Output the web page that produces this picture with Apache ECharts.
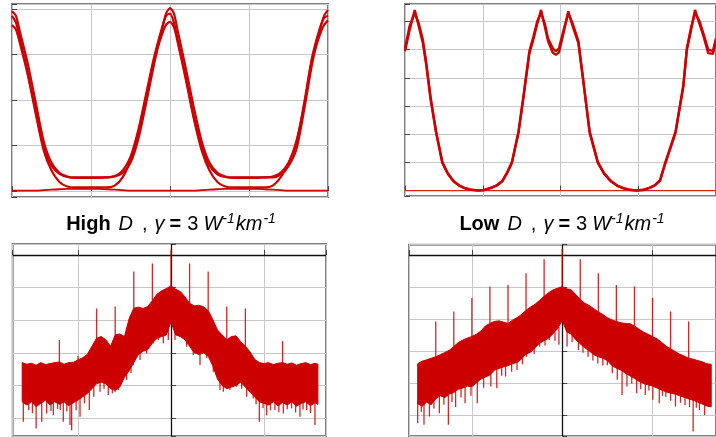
<!DOCTYPE html>
<html>
<head>
<meta charset="utf-8">
<script src="https://cdn.jsdelivr.net/npm/echarts@6/dist/echarts.min.js"></script>
<style>
  html, body { margin: 0; padding: 0; background: #fff; }
  #main { width: 716px; height: 437px; }
</style>
</head>
<body>
<div id="main"></div>
<script>
// 眼图 + 频谱 (High D / Low D)
const RED = '#cc0000';
const SPIKE = 'rgba(204,0,0,0.85)';

// ---- 左上: High D 眼图 ----
const hiEyeX = [0, 0.05, 0.1, 0.2, 0.3, 0.4, 0.5, 0.6, 0.7, 0.8, 0.9,
  1.0, 1.1, 1.2, 1.3, 1.4, 1.5, 1.6, 1.7, 1.8, 1.9, 1.95, 2.0, 2.05, 2.1,
  2.2, 2.3, 2.4, 2.5, 2.6, 2.7, 2.8, 2.9, 3.0, 3.1, 3.2, 3.3, 3.4, 3.5, 3.6, 3.7, 3.8, 3.9, 3.95, 4.0];
const hiEyeA = [3.85, 3.7, 3.35, 2.6, 1.75, 0.98, 0.56, 0.38, 0.31, 0.29, 0.29,
  0.29, 0.29, 0.3, 0.33, 0.45, 0.75, 1.35, 2.15, 2.95, 3.6, 3.85, 3.9, 3.7, 3.3,
  2.5, 1.65, 0.98, 0.56, 0.37, 0.31, 0.29, 0.29, 0.29, 0.29, 0.3, 0.32, 0.4, 0.62, 1.05, 1.95, 2.95, 3.6, 3.8, 3.85];
const hiEyeB = [3.95, 3.85, 3.5, 2.8, 1.95, 1.1, 0.62, 0.4, 0.32, 0.3, 0.3,
  0.3, 0.3, 0.3, 0.32, 0.4, 0.62, 1.15, 1.95, 2.8, 3.55, 3.9, 4.02, 3.9, 3.5,
  2.7, 1.85, 1.1, 0.62, 0.4, 0.32, 0.3, 0.3, 0.3, 0.3, 0.3, 0.3, 0.36, 0.55, 0.92, 1.8, 2.8, 3.55, 3.85, 3.98];
const hiEyeC = [3.65, 3.55, 3.25, 2.55, 1.7, 0.9, 0.45, 0.2, 0.1, 0.08, 0.08,
  0.08, 0.08, 0.08, 0.12, 0.3, 0.68, 1.3, 2.1, 2.9, 3.45, 3.65, 3.72, 3.6, 3.25,
  2.45, 1.6, 0.9, 0.45, 0.2, 0.1, 0.08, 0.08, 0.08, 0.08, 0.08, 0.12, 0.3, 0.6, 1.1, 1.9, 2.9, 3.45, 3.65, 3.75];
const hiEyeZero = [0.01, 0.01, 0.01, 0.01, 0.01, 0.02, 0.03, 0.04, 0.05, 0.05, 0.05,
  0.05, 0.05, 0.04, 0.03, 0.02, 0.01, 0.01, 0.01, 0.01, 0.01, 0.01, 0.01, 0.01, 0.01,
  0.01, 0.01, 0.02, 0.03, 0.04, 0.05, 0.05, 0.05, 0.05, 0.05, 0.04, 0.03, 0.02, 0.01, 0.01, 0.01, 0.01, 0.01, 0.01, 0.01];

// ---- 右上: Low D 眼图 ----
const loEyeX = [0, 0.06, 0.125, 0.18, 0.23, 0.27, 0.33, 0.4, 0.48, 0.55,
  0.625, 0.7, 0.77, 0.85, 0.94, 1.02, 1.1, 1.18, 1.25, 1.31,
  1.375, 1.46, 1.52, 1.6, 1.65, 1.7, 1.75, 1.8, 1.84, 1.9,
  1.94, 1.98, 2.04, 2.1, 2.16, 2.23, 2.29, 2.375, 2.48, 2.56,
  2.65, 2.73, 2.81, 2.9, 2.98, 3.06, 3.14, 3.21, 3.28, 3.35,
  3.48, 3.58, 3.625, 3.68, 3.73, 3.79, 3.84, 3.9, 3.96, 4.0];
const loEyeA = [4.94, 5.7, 6.41, 5.8, 5.23, 4.52, 3.22, 2.05, 0.98, 0.6,
  0.32, 0.17, 0.085, 0.03, 0.0, 0.02, 0.09, 0.18, 0.32, 0.6,
  0.98, 2.05, 3.22, 4.88, 5.35, 5.9, 6.41, 5.8, 5.3, 4.9,
  4.82, 4.9, 5.6, 6.36, 5.8, 5.23, 3.93, 2.05, 0.98, 0.6,
  0.32, 0.17, 0.08, 0.02, 0.0, 0.02, 0.09, 0.18, 0.35, 0.98,
  2.05, 3.69, 4.99, 5.7, 6.41, 5.9, 5.47, 4.88, 4.85, 5.3];
const loEyeB = [5.05, 5.85, 6.3, 5.9, 5.35, 4.6, 3.3, 2.1, 1.02, 0.62,
  0.34, 0.18, 0.09, 0.035, 0.01, 0.025, 0.1, 0.19, 0.34, 0.63,
  1.02, 2.1, 3.3, 4.95, 5.45, 6.0, 6.3, 5.9, 5.4, 5.05,
  4.95, 5.05, 5.7, 6.28, 5.9, 5.3, 4.0, 2.1, 1.02, 0.62,
  0.34, 0.18, 0.09, 0.03, 0.01, 0.03, 0.1, 0.19, 0.37, 1.02,
  2.1, 3.75, 5.05, 5.8, 6.3, 6.0, 5.55, 5.0, 4.95, 5.4];
const loFloorX = [0, 4];
const loFloorY = [0, 0];

// ---- 左下: High D 频谱 (dB) ----
const hiSpecX = [-160, -155, -150, -145, -140, -135, -130, -125, -120, -115,
  -110, -105, -100, -95, -90, -85, -80, -75, -70, -65,
  -60, -55, -50, -45, -40, -35, -30, -25, -20, -15,
  -10, -5, 0, 5, 10, 15, 20, 25, 30, 35,
  40, 45, 50, 55, 60, 65, 70, 75, 80, 85,
  90, 95, 100, 105, 110, 115, 120, 125, 130, 135,
  140, 145, 150, 155, 158];
const hiSpecTop = [-33.0, -33.5, -33.2, -33.8, -33.0, -33.6, -33.3, -33.0, -32.8, -33.5,
  -33.0, -32.9, -32.2, -31.5, -30.5, -28.0, -25.5, -25.0, -26.0, -28.0,
  -24.5, -24.2, -25.0, -19.5, -16.3, -16.0, -16.4, -15.8, -14.0, -12.0,
  -11.0, -10.3, -9.5, -10.5, -11.2, -12.8, -14.8, -15.6, -15.4, -15.9,
  -17.0, -19.8, -23.0, -24.5, -26.0, -25.0, -24.8, -26.6, -28.0, -29.7,
  -32.0, -33.0, -33.3, -33.0, -33.6, -33.2, -33.0, -33.5, -33.1, -33.8,
  -33.3, -33.0, -33.6, -33.2, -33.5];
const hiSpecBot = [-45.0, -46.0, -45.0, -46.5, -45.5, -44.5, -46.0, -45.0, -45.8, -45.0,
  -46.2, -45.3, -44.5, -43.5, -42.5, -41.0, -39.5, -39.0, -39.5, -41.0,
  -41.5, -40.5, -37.5, -35.5, -33.0, -30.5, -29.5, -29.0, -27.0, -25.5,
  -25.0, -24.5, -20.5, -24.5, -25.0, -26.0, -28.0, -30.0, -30.5, -30.0,
  -31.0, -34.0, -38.0, -40.0, -41.0, -40.5, -40.0, -39.0, -40.5, -42.0,
  -43.5, -45.0, -45.5, -46.0, -45.0, -46.3, -45.2, -46.0, -45.0, -46.4,
  -45.5, -45.0, -46.2, -45.3, -45.8];
// [频率, 起点, 终点]
const hiSpecUp = [[-120, -33, -26.1], [-100, -32.5, -31.0], [-80, -25.5, -16.4], [-60, -24.5, -15.8],
  [-40, -16.3, -5.1], [-20, -14.2, -2.6], [0, -9.5, 1.7], [20, -14.8, -2.6], [40, -17, -5.1],
  [60, -26, -15.8], [80, -28, -16.4], [120, -33, -26.4]];
const hiSpecDown = [[-158.8, -44, -51.1], [-153, -45, -47.5], [-149, -45, -48.5], [-145, -45, -53.2],
  [-139, -44, -51.1], [-133.7, -45, -48.6], [-129, -45, -47.8], [-126.5, -44, -49.1], [-122, -45, -47.2],
  [-119, -45, -47.5], [-115.8, -44, -51.1], [-112, -45, -48.0], [-108.6, -45, -52.1], [-106.8, -45, -53.7],
  [-102, -44, -47.6], [-97.8, -43, -49.6], [-93, -42, -45.5], [-87.8, -41, -47.5], [-83, -40, -43.5],
  [-76.3, -38, -41.9], [-72, -38.5, -41.0], [-67.4, -40, -42.9], [-63, -40, -42.4], [-60.2, -40, -42.0],
  [-56.6, -40, -41.4], [-47.7, -36, -38.3], [-43, -34, -36.2], [-40.5, -32, -33.7], [-33.3, -29, -32.2],
  [-26.2, -28.5, -30.2], [-19, -26, -27.1], [-13.6, -25, -26.1], [-8.2, -24.5, -27.1], [-2.9, -22, -26.1],
  [4.3, -23, -26.1], [9.7, -24.5, -25.1], [16.8, -25.5, -28.1], [24, -28, -30.7], [31.2, -30, -33.7],
  [38.4, -30.5, -31.6], [45.5, -33, -35.8], [52.7, -37, -41.4], [56.3, -39, -41.9], [63.4, -40, -41.4],
  [70.6, -39.5, -40.4], [76, -38.5, -41.0], [81.4, -40, -43.5], [88.5, -42, -44.0], [91.5, -43, -45.8],
  [95, -44, -51.1], [99, -45, -47.0], [102.9, -45, -49.1], [107, -45, -47.6], [111.8, -45, -47.5],
  [116, -45, -48.2], [120.8, -45, -48.6], [125, -45, -47.3], [129.7, -45, -47.0], [134, -45, -48.3],
  [138.7, -45, -49.6], [142, -45, -47.4], [145.9, -45, -47.5], [150, -45, -48.5], [154.8, -45, -52.1]];

// ---- 右下: Low D 频谱 (dB) ----
const loSpecX = [-160, -155, -150, -145, -140, -135, -130, -125, -120, -115,
  -110, -105, -100, -95, -90, -85, -80, -75, -70, -65,
  -60, -55, -50, -45, -40, -35, -30, -25, -20, -15,
  -10, -5, 0, 5, 10, 15, 20, 25, 30, 35,
  40, 45, 50, 55, 60, 65, 70, 75, 80, 85,
  90, 95, 100, 105, 110, 115, 120, 125, 130, 135,
  140, 145, 150, 155, 160, 165];
const loSpecTop = [-34.0, -33.2, -32.8, -32.3, -31.8, -31.2, -30.5, -29.8, -28.6, -27.4,
  -26.6, -26.0, -25.5, -24.8, -23.8, -22.2, -21.4, -20.8, -20.6, -21.0,
  -21.4, -20.4, -19.6, -18.6, -17.3, -16.3, -15.4, -14.2, -12.9, -11.8,
  -10.9, -10.4, -9.9, -10.6, -10.9, -12.4, -13.9, -15.1, -15.8, -16.8,
  -17.8, -18.6, -19.6, -20.3, -20.8, -21.2, -21.4, -21.5, -22.2, -23.2,
  -24.1, -24.8, -25.5, -26.2, -27.3, -28.5, -29.3, -30.2, -31.0, -31.6,
  -32.3, -32.6, -33.0, -33.4, -34.0, -34.2];
const loSpecBot = [-46.5, -47.3, -46.0, -46.8, -45.0, -44.0, -44.6, -43.5, -43.0, -42.0,
  -41.6, -41.0, -41.2, -40.0, -38.8, -38.2, -37.5, -36.0, -35.5, -35.0,
  -34.6, -34.0, -33.6, -32.5, -31.0, -30.4, -29.0, -27.6, -26.8, -26.0,
  -24.6, -23.0, -20.5, -24.0, -24.8, -26.5, -27.8, -29.0, -30.0, -31.2,
  -31.8, -32.3, -33.0, -34.6, -35.4, -36.0, -37.0, -37.8, -38.6, -39.5,
  -40.2, -40.6, -41.0, -41.6, -42.2, -42.8, -43.2, -43.5, -44.0, -44.5,
  -45.0, -45.4, -46.0, -46.6, -47.2, -47.5];
const loSpecUp = [[-140, -31.8, -20.8], [-120, -28.6, -17.7], [-100, -25.5, -13.5], [-80, -21.4, -9.9],
  [-60, -21.4, -9.4], [-40, -17.3, -5.7], [-20, -12.9, -1.35], [0, -9.9, 1.8], [20, -13.9, -1.35],
  [40, -17.8, -5.7], [60, -20.8, -9.4], [80, -22.2, -9.9], [100, -25.5, -13.5], [120, -29.3, -17.7],
  [140, -32.3, -20.8]];
const loSpecDown = [[-160, -46, -52.6], [-156, -46.5, -49.0], [-153, -46.5, -53.1], [-147, -46, -50.5],
  [-142, -45, -48.0], [-136, -44, -49.5], [-131, -44, -46.8], [-126, -43.5, -53.1], [-122, -43, -46.0],
  [-118, -42.5, -47.5], [-112, -41.5, -44.6], [-107.5, -41, -46.4], [-101, -41, -44.0], [-94, -39.5, -46.4],
  [-87, -38, -41.5], [-79, -37, -41.1], [-72.4, -35.5, -41.7], [-67, -35, -37.8], [-62.7, -34.6, -38],
  [-56, -34, -36.5], [-50, -33, -36], [-44, -32, -34.2], [-39.4, -30.5, -31.8], [-31, -28.5, -31.0],
  [-25, -27.5, -28.6], [-19, -26.5, -28.3], [-14.3, -25.5, -26.6], [-8, -24, -26.8], [-3.6, -22.5, -28.1],
  [5.4, -24, -28.6], [11, -25, -27.2], [18, -27.5, -29.7], [23, -28.5, -30.6], [28.7, -29.5, -31.8],
  [34, -31, -33.0], [39.4, -31.5, -33.9], [45, -32, -34.6], [50, -32.5, -34.5], [55.5, -34.5, -37.0],
  [61, -35, -39], [66.3, -36, -43.75], [71.7, -37, -41.1], [77, -37.5, -40.2], [82.4, -38.5, -43.2],
  [87, -39.5, -42.0], [92, -40.2, -43.75], [96, -40.5, -42.4], [100.4, -41, -45.3], [107.5, -41.6, -46.4],
  [111, -42, -44.0], [114.7, -42.5, -44.3], [120, -43, -45.6], [125.4, -43.5, -47.4], [131, -44, -46.2],
  [136, -44.5, -47], [141, -45, -47.5], [145, -45, -55.2], [148.5, -45.5, -47.8], [152, -46, -48.5],
  [157.7, -46.5, -50]];

// 标题 (各段之间的间距放在 rich 的 padding 里)
const titleHi = '{b|High}{d|D}{c|,}{g|γ}{e|=}{n|3}{w|W}{s|-1}{k|km}{s|-1}';
const titleLo = '{b|Low}{d|D}{c|,}{g|γ}{e|=}{n|3}{w|W}{s|-1}{k|km}{s|-1}';

(function () {
  let myChart = echarts.init(document.getElementById('main'), null, { renderer: 'canvas' });

  function pairs(xs, ys) {
    return xs.map(function (x, i) { return [x, ys[i]]; });
  }
  function rows(xs, lo, hi) {
    return xs.map(function (x, i) { return [x, lo[i], hi[i]]; });
  }

  function gridBox(left, top, width, height) {
    return {
      left: left, top: top, width: width, height: height,
      show: true, borderColor: '#7f7f7f', borderWidth: 2, backgroundColor: 'transparent'
    };
  }

  function axis(gridIndex, min, max, step, pos) {
    return {
      type: 'value', gridIndex: gridIndex, position: pos,
      min: min, max: max, minInterval: step, maxInterval: step,
      axisLine: { show: false },
      axisLabel: { show: false },
      axisTick: { show: true, inside: true, length: 5, lineStyle: { color: '#444', width: 1 } },
      splitLine: { show: true, lineStyle: { color: '#c8c8c8', width: 1 } }
    };
  }

  function eyeLine(idx, xs, ys, w, color, smooth) {
    return {
      type: 'line', xAxisIndex: idx, yAxisIndex: idx,
      data: pairs(xs, ys), showSymbol: false, smooth: smooth, silent: true,
      lineStyle: { color: color, width: w }, z: 3
    };
  }

  // 整条带子画成一个多边形
  function band(idx, xs, lo, hi) {
    return {
      type: 'custom', xAxisIndex: idx, yAxisIndex: idx, silent: true, clip: true, z: 3,
      data: rows(xs, lo, hi),
      encode: { x: 0, y: [1, 2] },
      renderItem: function (params, api) {
        if (params.dataIndex !== 0) return null;
        let pts = [];
        for (let i = 0; i < xs.length; i++) pts.push(api.coord([xs[i], hi[i]]));
        for (let i = xs.length - 1; i >= 0; i--) pts.push(api.coord([xs[i], lo[i]]));
        return {
          type: 'polygon', shape: { points: pts },
          style: { fill: RED, stroke: RED, lineWidth: 1 }
        };
      }
    };
  }

  function spikes(idx, data) {
    return {
      type: 'custom', xAxisIndex: idx, yAxisIndex: idx, silent: true, clip: true, z: 4,
      data: data,
      encode: { x: 0, y: [1, 2] },
      renderItem: function (params, api) {
        let p = api.coord([api.value(0), api.value(1)]);
        let q = api.coord([api.value(0), api.value(2)]);
        return {
          type: 'line', shape: { x1: p[0], y1: p[1], x2: q[0], y2: q[1] },
          style: { stroke: SPIKE, lineWidth: 1.3 }
        };
      }
    };
  }

  function zeroLines(idx) {
    return {
      type: 'line', xAxisIndex: idx, yAxisIndex: idx, data: [], silent: true, z: 1,
      markLine: {
        silent: true, symbol: 'none', animation: false, z: 1,
        label: { show: false },
        lineStyle: { color: '#111', width: 1.3, type: 'solid' },
        data: [{ yAxis: 0 }, { xAxis: 0 }]
      }
    };
  }

  const FONT = 'Liberation Sans';
  function seg(extra) {
    return Object.assign({ fontFamily: FONT, fontSize: 20, fontWeight: 'normal', color: '#000', lineHeight: 24 }, extra);
  }
  let richStyle = {
    b: seg({ fontWeight: 'bold' }),
    d: seg({ fontStyle: 'italic', padding: [0, 0, 0, 8] }),
    c: seg({ padding: [0, 0, 0, 9] }),
    g: seg({ fontStyle: 'italic', padding: [0, 0, 0, 7] }),
    e: seg({ fontWeight: 'bold', padding: [0, 0, 0, 5] }),
    n: seg({ padding: [0, 0, 0, 6] }),
    w: seg({ fontStyle: 'italic', padding: [0, 0, 0, 5] }),
    k: seg({ fontStyle: 'italic', padding: [0, 1, 0, 1] }),
    s: { fontFamily: FONT, fontSize: 14, fontWeight: 'normal', fontStyle: 'italic', color: '#000', verticalAlign: 'top', lineHeight: 16 }
  };

  let option = {
    animation: false,
    backgroundColor: '#fff',
    title: [
      { text: titleHi, left: 171, top: 212, textAlign: 'center', padding: 0,
        textStyle: { fontFamily: FONT, fontSize: 20, fontWeight: 'normal', color: '#000', lineHeight: 24, rich: richStyle } },
      { text: titleLo, left: 562, top: 212, textAlign: 'center', padding: 0,
        textStyle: { fontFamily: FONT, fontSize: 20, fontWeight: 'normal', color: '#000', lineHeight: 24, rich: richStyle } }
    ],
    grid: [
      gridBox(12, 4, 316, 193),
      gridBox(405, 4, 320, 192),
      gridBox(12.7, 244, 313.3, 192),
      gridBox(409, 244.7, 316, 191.3)
    ],
    xAxis: [
      axis(0, 0, 4, 1, 'bottom'),
      axis(1, 0, 4, 1, 'bottom'),
      axis(2, -170.2, 166.7, 100, 'bottom'),
      axis(3, -169.6, 170.3, 100, 'bottom')
    ],
    yAxis: [
      axis(0, -0.13, 4.11, 1, 'left'),
      axis(1, -0.19, 6.62, 1, 'left'),
      axis(2, -55.5, 3.37, 10, 'left'),
      axis(3, -56.6, 3.2, 10, 'left')
    ],
    series: [
      eyeLine(0, hiEyeX, hiEyeZero, 1.8, RED, 0.25),
      eyeLine(0, hiEyeX, hiEyeC, 2.2, RED, 0.25),
      eyeLine(0, hiEyeX, hiEyeA, 2.2, RED, 0.25),
      eyeLine(0, hiEyeX, hiEyeB, 2.2, RED, 0.25),

      eyeLine(1, loFloorX, loFloorY, 1.3, '#e02020', false),
      eyeLine(1, loEyeX, loEyeA, 2.4, RED, false),
      eyeLine(1, loEyeX, loEyeB, 2.4, RED, false),

      zeroLines(2),
      band(2, hiSpecX, hiSpecBot, hiSpecTop),
      spikes(2, hiSpecUp),
      spikes(2, hiSpecDown),

      zeroLines(3),
      band(3, loSpecX, loSpecBot, loSpecTop),
      spikes(3, loSpecUp),
      spikes(3, loSpecDown)
    ]
  };

  myChart.setOption(option);
  window.addEventListener('resize', function () {
    myChart.resize();
  });
})();
</script>
</body>
</html>
